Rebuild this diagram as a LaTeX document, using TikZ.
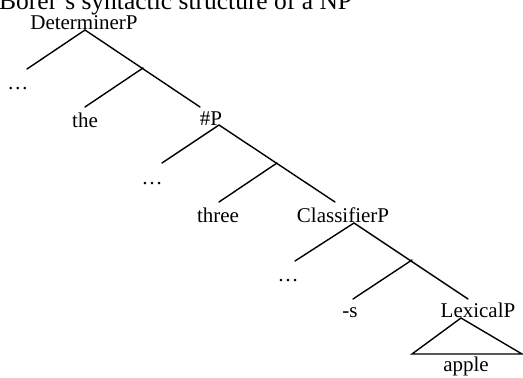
\documentclass[tikz,border=0pt]{standalone}
\usepackage{fontspec}
\setmainfont{Liberation Serif}
\begin{document}
\begin{tikzpicture}[x=1pt,y=-1pt,
  lbl/.style={inner sep=0pt,anchor=base,font=\fontsize{21}{25}\selectfont},
  ttl/.style={inner sep=0pt,anchor=base west,font=\fontsize{25.5}{30}\selectfont},
  br/.style={line width=1.4pt,line cap=round}]
\useasboundingbox (0,0) rectangle (523,378);
\begin{scope}
\clip (0,0) rectangle (523,378);
\node[ttl] (title) at (-1,9) {Borer's syntactic structure of a NP};
\end{scope}
% labels
\node[lbl] (dp) at (84,29) {DeterminerP};
\node[lbl] (d1) at (18,89) {…};
\node[lbl] (the) at (85,127) {the};
\node[lbl] (np) at (211,125) {\#P};
\node[lbl] (d2) at (152,184) {…};
\node[lbl] (three) at (218,222) {three};
\node[lbl] (clp) at (343,222) {ClassifierP};
\node[lbl] (d3) at (288,281) {…};
\node[lbl] (s) at (350,317) {-s};
\node[lbl] (lp) at (478,317) {LexicalP};
\node[lbl] (apple) at (466,371) {apple};
% branch points
\coordinate (a1) at (85,30);
\coordinate (l1) at (27,69);
\coordinate (j1) at (143,68);
\coordinate (b1) at (85,107);
\coordinate (r1) at (200,107);
\coordinate (a2) at (219,125);
\coordinate (l2) at (162,163);
\coordinate (j2) at (277,163);
\coordinate (b2) at (219,202);
\coordinate (r2) at (335,202);
\coordinate (a3) at (354,223);
\coordinate (l3) at (295,261);
\coordinate (j3) at (412,260);
\coordinate (b3) at (353,299);
\coordinate (r3) at (468,299);
\coordinate (t0) at (461,318);
\coordinate (tl) at (412,354);
\coordinate (tr) at (522,354);
% tree
\draw[br] (l1) -- (a1) -- (r1);
\draw[br] (j1) -- (b1);
\draw[br] (l2) -- (a2) -- (r2);
\draw[br] (j2) -- (b2);
\draw[br] (l3) -- (a3) -- (r3);
\draw[br] (j3) -- (b3);
\draw[br,line join=miter] (t0) -- (tl) -- (tr) -- cycle;
\end{tikzpicture}
\end{document}
